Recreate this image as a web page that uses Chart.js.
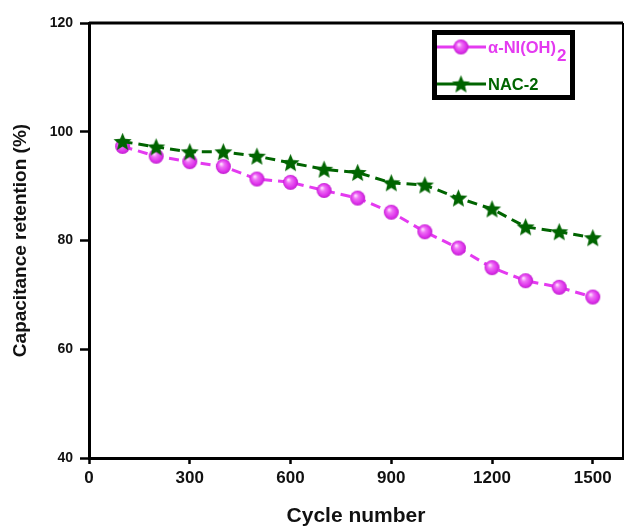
<!DOCTYPE html>
<html>
<head>
<meta charset="utf-8">
<script src="https://cdn.jsdelivr.net/npm/chart.js@4"></script>
<style>
html,body{margin:0;padding:0;background:#fff;overflow:hidden;}
#wrap{width:625px;height:526px;position:relative;}
</style>
</head>
<body>
<div id="wrap"><canvas id="c"></canvas></div>
<script>
// ---- data ----
const cycles = [100,200,300,400,500,600,700,800,900,1000,1100,1200,1300,1400,1500];
const niOH = [97.3,95.5,94.5,93.6,91.3,90.7,89.2,87.8,85.2,81.6,78.6,75.0,72.6,71.4,69.6];
const nac2 = [98.2,97.2,96.3,96.3,95.5,94.3,93.1,92.5,90.6,90.2,87.8,85.8,82.5,81.6,80.5];
const xTicks = [0,300,600,900,1200,1500];
const yTicks = [40,60,80,100,120];
const seriesLabels = ['α-NI(OH)', 'NAC-2'];

const MAG = 'rgb(228,58,240)';
const GRN = '#006400';
const FONT = 'Liberation Sans, Arial, sans-serif';
const TARGET_RIGHT = 623;

function sphere(r){
  const c = document.createElement('canvas');
  c.width = c.height = Math.ceil(r*2+2);
  const g = c.getContext('2d');
  const cx = c.width/2, cy = c.height/2;
  const grad = g.createRadialGradient(cx-r*0.3, cy-r*0.35, r*0.08, cx, cy, r);
  grad.addColorStop(0, '#ffd8ff');
  grad.addColorStop(0.3, '#ee70f5');
  grad.addColorStop(0.75, 'rgb(222,50,235)');
  grad.addColorStop(1, 'rgb(190,30,205)');
  g.fillStyle = grad;
  g.beginPath(); g.arc(cx, cy, r, 0, Math.PI*2); g.fill();
  return c;
}
function star(r){
  const c = document.createElement('canvas');
  c.width = c.height = Math.ceil(r*2+2);
  const g = c.getContext('2d');
  const cx = c.width/2, cy = c.height/2 + 0.8;
  g.fillStyle = GRN;
  g.beginPath();
  for(let i=0;i<10;i++){
    const rr = i%2===0 ? r : r*0.45;
    const a = -Math.PI/2 + i*Math.PI/5;
    const px = cx + rr*Math.cos(a), py = cy + rr*Math.sin(a);
    if(i===0) g.moveTo(px,py); else g.lineTo(px,py);
  }
  g.closePath(); g.fill();
  return c;
}
const sphereImg = sphere(7.5);
const starImg = star(9.5);

const framePlugin = {
  id: 'frame',
  afterDatasetsDraw(chart){
    const {ctx, chartArea:a} = chart;
    ctx.save();
    ctx.strokeStyle = '#000';
    ctx.lineWidth = 3;
    ctx.beginPath();
    ctx.moveTo(a.left, a.top); ctx.lineTo(a.right, a.top);
    ctx.stroke();
    ctx.lineWidth = 2;
    ctx.beginPath();
    ctx.moveTo(a.right, a.top); ctx.lineTo(a.right, a.bottom);
    ctx.stroke();
    ctx.restore();
  }
};

const legendPlugin = {
  id: 'boxLegend',
  afterDraw(chart){
    const ctx = chart.ctx;
    const ds = chart.data.datasets;
    ctx.save();
    ctx.strokeStyle = '#000';
    ctx.lineWidth = 5;
    ctx.strokeRect(434.5, 32.5, 138, 65);
    const rows = [47, 84];
    const imgs = [sphereImg, starImg];
    ds.forEach((d, i) => {
      const y = rows[i];
      ctx.strokeStyle = d.borderColor;
      ctx.lineWidth = 3;
      ctx.setLineDash([]);
      ctx.beginPath(); ctx.moveTo(437, y); ctx.lineTo(486, y); ctx.stroke();
      const im = imgs[i];
      ctx.drawImage(im, 461 - im.width/2, y - im.height/2);
      ctx.fillStyle = d.borderColor;
      ctx.textBaseline = 'alphabetic';
      ctx.font = 'bold 16.5px ' + FONT;
      ctx.fillText(d.label, 488, y + 6);
      if(i === 0){
        const w = ctx.measureText(d.label).width;
        ctx.font = 'bold 17px ' + FONT;
        ctx.fillText('2', 488 + w + 1, y + 14);
      }
    });
    ctx.restore();
  }
};

const chart = new Chart(document.getElementById('c'), {
  type: 'line',
  data: {
    datasets: [
      {
        label: seriesLabels[0],
        data: cycles.map((x,i)=>({x, y:niOH[i]})),
        borderColor: MAG,
        backgroundColor: MAG,
        borderWidth: 3,
        borderDash: [10,6],
        pointStyle: sphereImg,
        pointRadius: 7,
        fill: false,
        order: 2
      },
      {
        label: seriesLabels[1],
        data: cycles.map((x,i)=>({x, y:nac2[i]})),
        borderColor: GRN,
        backgroundColor: GRN,
        borderWidth: 3,
        borderDash: [10,6],
        pointStyle: starImg,
        pointRadius: 9,
        fill: false,
        order: 1
      }
    ]
  },
  options: {
    responsive: false,
    maintainAspectRatio: false,
    devicePixelRatio: 1,
    animation: false,
    layout: { padding: { top: 23, right: 2, left: 0, bottom: 0 } },
    plugins: { legend: { display: false }, tooltip: { enabled: false } },
    scales: {
      x: {
        type: 'linear',
        min: 0, max: 1590,
        afterBuildTicks(s){ s.ticks = xTicks.map(v=>({value:v})); },
        afterFit(s){ s.height = 68; s.paddingLeft = 0; s.paddingRight = 0; },
        grid: { drawOnChartArea: false, drawTicks: true, tickLength: 6, tickWidth: 2.5, tickColor: '#000' },
        border: { display: true, color: '#000', width: 3 },
        ticks: { color: '#111', padding: 4, callback: v => String(v), font: { family: FONT, size: 17, weight: 'bold' } },
        title: { display: true, text: 'Cycle number', color: '#111', padding: { top: 0, bottom: -3 }, font: { family: FONT, size: 21, weight: 'bold' } }
      },
      y: {
        min: 40, max: 120,
        afterBuildTicks(s){ s.ticks = yTicks.map(v=>({value:v})); },
        afterFit(s){ s.width = 89; s.paddingTop = 0; s.paddingBottom = 0; },
        grid: { drawOnChartArea: false, drawTicks: true, tickLength: 9, tickWidth: 2.5, tickColor: '#000' },
        border: { display: true, color: '#000', width: 3 },
        ticks: { color: '#111', padding: 7, font: { family: FONT, size: 14, weight: 'bold' } },
        title: { display: true, text: 'Capacitance retention (%)', color: '#111', padding: { top: 9, bottom: 0 }, font: { family: FONT, size: 19, weight: 'bold' } }
      }
    }
  },
  plugins: [framePlugin, legendPlugin]
});
// make the chart area reach the reference's right frame (x ≈ 623 px)
const canvasEl = document.getElementById('c');
canvasEl.width = 625; canvasEl.height = 526;
chart.resize(625, 526);
for (let k = 0; k < 3; k++) {
  const dr = TARGET_RIGHT - chart.chartArea.right;
  if (Math.abs(dr) < 0.5) break;
  chart.resize(chart.width + dr, 526);
}
</script>
</body>
</html>
